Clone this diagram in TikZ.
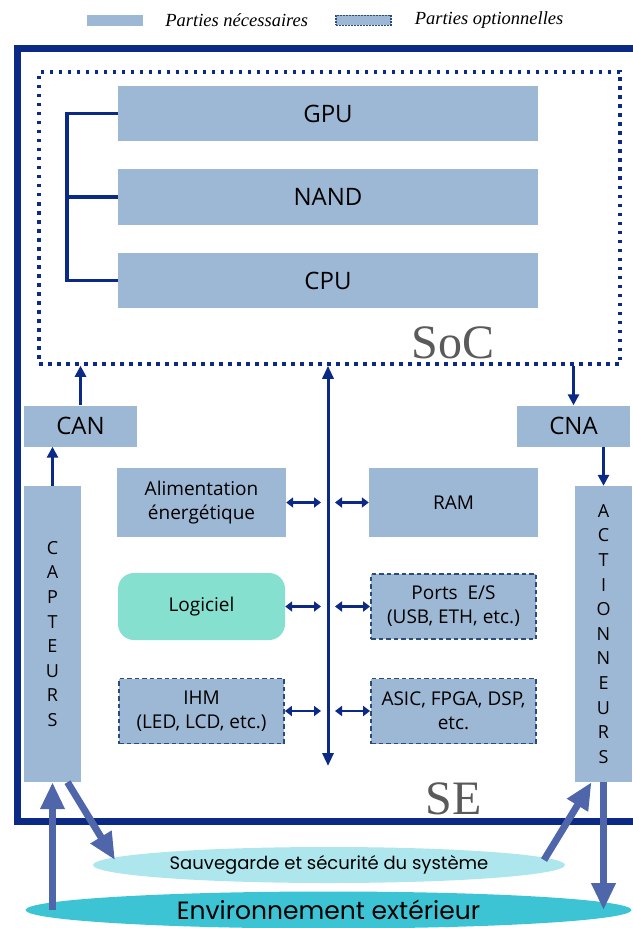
\documentclass[tikz,border=0pt]{standalone}
\usepackage{fontspec}
\setmainfont{Open Sans}
\newfontfamily\legendfont{Liberation Serif}
\newfontfamily\roundfont{Poppins}
\usepackage{xcolor}
\usepackage{tikz}
\usetikzlibrary{shapes.geometric, arrows.meta, positioning}
\definecolor{navy}{HTML}{0A2A85}
\definecolor{partblue}{HTML}{9DB8D4}
\definecolor{dashblue}{HTML}{2B4B7C}
\definecolor{softgreen}{HTML}{85E0CF}
\definecolor{sauvcyan}{HTML}{AEE6ED}
\definecolor{envcyan}{HTML}{3CC4D4}
\definecolor{bigblue}{HTML}{5066AA}
\definecolor{labelgray}{HTML}{5A5A5A}
\tikzstyle{part} = [rectangle, minimum width=169pt, minimum height=69pt, inner sep=0pt, text centered, fill=partblue, font=\fontsize{19}{24}\selectfont]
\tikzstyle{optpart} = [part, minimum width=165pt, minimum height=65pt, draw=dashblue, line width=1.8pt, dash pattern=on 4.5pt off 3pt]
\tikzstyle{soft} = [part, minimum width=167pt, minimum height=67pt, rounded corners=16pt, fill=softgreen]
\tikzstyle{socpart} = [part, minimum width=420pt, minimum height=55pt, font=\fontsize{24}{28}\selectfont]
\tikzstyle{conv} = [part, minimum width=113pt, minimum height=41pt, font=\fontsize{24}{28}\selectfont]
\tikzstyle{column} = [part, minimum width=57pt, minimum height=296pt, font=\fontsize{18}{24.6}\selectfont]
\tikzstyle{socframe} = [rectangle, draw=navy, line width=3.5pt, dash pattern=on 3.5pt off 5.5pt]
\tikzstyle{legend} = [inner sep=0pt, anchor=west, font=\legendfont\itshape\fontsize{18.5}{20}\selectfont]
\tikzstyle{bigserif} = [inner sep=0pt, text=labelgray, font=\legendfont\fontsize{48}{50}\selectfont]
\tikzstyle{arrow} = [navy, line width=3pt, -{Triangle[width=11pt,length=11pt]}]
\tikzstyle{dblarrow} = [navy, line width=2.7pt, {Triangle[width=10pt,length=7pt]}-{Triangle[width=10pt,length=7pt]}]
\tikzstyle{busarrow} = [navy, line width=3pt, {Triangle[width=11pt,length=13pt]}-{Triangle[width=11pt,length=13pt]}]
\tikzstyle{bigarrow} = [bigblue, line width=7pt, -{Triangle[width=23pt,length=27pt]}]
\tikzset{every node/.style={align=center}}

\begin{document}
\begin{tikzpicture}[x=1pt, y=1pt, node distance=83.5pt]
    \useasboundingbox (0,0) rectangle (632,-928);
    % legend
    \node (needbox) [part, minimum width=56pt, minimum height=11pt] at (115,-20.5) {};
    \node (needtxt) [legend, right=22pt of needbox] {Parties nécessaires};
    \node (optbox) [optpart, minimum width=55pt, minimum height=10pt, line width=1.2pt, dash pattern=on 2pt off 1pt] at (363.5,-20.5) {};
    \node (opttxt) [legend, right=23pt of optbox] {Parties optionnelles};

    % SE frame
    \draw [navy, line width=7pt] (640,-48.5) -- (17,-48.5) -- (17,-821) -- (640,-821);
    \node (selbl) [bigserif] at (454,-799) {SE};

    % SoC
    \node (soc) [socframe, minimum width=581pt, minimum height=292pt] at (329.5,-218) {};
    \node (soclbl) [bigserif] at (453,-343) {SoC};
    \node (gpu) [socpart] at (328,-113.5) {GPU};
    \node (nand) [socpart, below of=gpu] {NAND};
    \node (cpu) [socpart, below of=nand] {CPU};
    \coordinate (bracket) at (67,0);
    \draw [navy, line width=3.5pt] (gpu.west) -| (bracket |- cpu.west) -- (cpu.west);
    \draw [navy, line width=3.5pt] (nand.west) -- (nand.west -| bracket);

    % converters, sensors, actuators
    \node (can) [conv] at (80.5,-426) {CAN};
    \node (cna) [conv] at (573.5,-426) {CNA};
    \node (capt) [column] at (52.5,-634) {C\\A\\P\\T\\E\\U\\R\\S};
    \node (act) [column] at (603.5,-634) {A\\C\\T\\I\\O\\N\\N\\E\\U\\R\\S};

    % parts on the bus
    \node (alim) [part] at (201.5,-502.5) {Alimentation\\énergétique};
    \node (ram) [part, right of=alim, node distance=252pt] {RAM};
    \node (logi) [soft, below of=alim, node distance=104pt] {Logiciel};
    \node (ports) [optpart, below of=ram, node distance=104pt] {Ports~~E/S\\(USB, ETH, etc.)};
    \node (ihm) [optpart, below of=logi, node distance=104.5pt] {IHM\\(LED, LCD, etc.)};
    \node (asic) [optpart, below of=ports, node distance=104.5pt] {ASIC, FPGA, DSP,\\etc.};

    % outside
    \node (sauv) [ellipse, fill=sauvcyan, minimum width=472pt, minimum height=36pt, inner sep=0pt, font=\roundfont\fontsize{18}{20}\selectfont] at (329,-865) {\makebox[0pt]{Sauvegarde et sécurité du système}};
    \node (env) [ellipse, fill=envcyan, minimum width=606pt, minimum height=37pt, inner sep=0pt, font=\roundfont\fontsize{25}{27}\selectfont] at (328.5,-910) {\makebox[0pt]{Environnement extérieur}};

    % bus
    \coordinate (bus) at (328,-766);
    \coordinate (busl) at (321,0);
    \coordinate (busr) at (335,0);
    \draw [busarrow] (bus) -- (bus |- soc.south);
    \draw [dblarrow] (alim.east) -- (alim.east -| busl);
    \draw [dblarrow] (busr |- ram.west) -- (ram.west);
    \draw [dblarrow] (logi.east) -- (logi.east -| busl);
    \draw [dblarrow] (busr |- ports.west) -- (ports.west);
    \draw [dblarrow] (ihm.east) -- (ihm.east -| busl);
    \draw [dblarrow] (busr |- asic.west) -- (asic.west);

    \draw [arrow] (can.north) -- (can.north |- soc.south);
    \draw [arrow] (capt.north) -- (capt.north |- can.south);
    \draw [arrow] (cna.north |- soc.south) -- (cna.north);
    \draw [arrow] (act.north |- cna.south) -- (act.north);

    % big arrows
    \coordinate (sauvl) at (115,-860);
    \coordinate (sauvr) at (544,-860);
    \draw [bigarrow] (capt.south |- env.center) -- (capt.south);
    \draw [bigarrow] ([xshift=15pt]capt.south) -- (sauvl);
    \draw [bigarrow] (sauvr) -- ([xshift=-12pt]act.south);
    \draw [bigarrow] (act.south) -- (act.south |- env.center);
\end{tikzpicture}
\end{document}
